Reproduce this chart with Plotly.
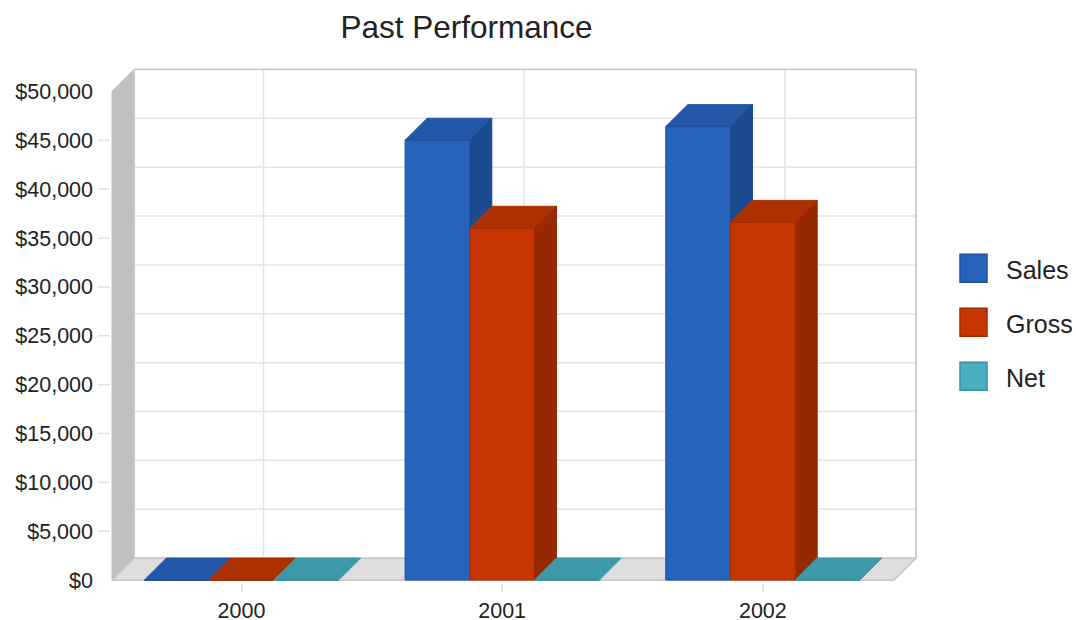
import plotly.graph_objects as go

title = "Past Performance"
years = ["2000", "2001", "2002"]
sales = [0, 45000, 46400]
gross = [0, 36000, 36600]
net = [0, 0, 0]
series_names = ["Sales", "Gross", "Net"]
series_values = [sales, gross, net]
tick_values = [0, 5000, 10000, 15000, 20000, 25000, 30000, 35000, 40000, 45000, 50000]
tick_labels = ["$0", "$5,000", "$10,000", "$15,000", "$20,000", "$25,000", "$30,000", "$35,000", "$40,000", "$45,000", "$50,000"]
front_colors = ["#2563BD", "#C73600", "#47B0C0"]
top_colors = ["#2157A6", "#AD3000", "#3D99A8"]
side_colors = ["#1C4A8F", "#962900", "#327F8C"]
line_colors = ["#1F4F9A", "#A32C00", "#3A8F9C"]

W, H = 1076, 620
PX_X = 260.67
PX_Y = 0.00978
X0_PX = 241.5
Y0_PX = 580.0
L_PX, R_PX = 96.0, 918.0
T_VAL, B_VAL = 52500.0, -300.0
xr = [(L_PX - X0_PX) / PX_X, (R_PX - X0_PX) / PX_X]
yr = [B_VAL, T_VAL]
DX = 22 / PX_X
DY = 22 / PX_Y
XL = (112 - X0_PX) / PX_X
XR = (894 - X0_PX) / PX_X
YT = tick_values[-1]
BAR_W = 0.2483
GROUP = BAR_W * 3

fig = go.Figure()


def poly(xs, ys, fill, line=None, width=1):
    fig.add_trace(go.Scatter(
        x=xs + [xs[0]], y=ys + [ys[0]], mode="lines", fill="toself", fillcolor=fill,
        line=dict(color=line or fill, width=width), hoverinfo="skip", showlegend=False))


def lines(segs, color, width=1.5):
    xs, ys = [], []
    for (a, b, c, d) in segs:
        xs += [a, c, None]
        ys += [b, d, None]
    fig.add_trace(go.Scatter(x=xs, y=ys, mode="lines", line=dict(color=color, width=width),
                             hoverinfo="skip", showlegend=False))


# back wall
poly([XL + DX, XR + DX, XR + DX, XL + DX], [DY, DY, YT + DY, YT + DY], "#FFFFFF")
# grid on back wall
grid = [(XL + DX, v + DY, XR + DX, v + DY) for v in tick_values[1:-1]]
grid += [(i + DX, DY, i + DX, YT + DY) for i in range(len(years))]
lines(grid, "#E3E4E8", 1.5)
# left wall and floor
poly([XL, XL + DX, XL + DX, XL], [0, DY, YT + DY, YT], "#C0C0C0")
poly([XL, XL + DX, XR + DX, XR], [0, DY, DY, 0], "#DEDEDE")
# frame
lines([(XL + DX, YT + DY, XR + DX, YT + DY), (XR + DX, YT + DY, XR + DX, DY),
       (XR + DX, DY, XR, 0), (XL + DX, DY, XR + DX, DY), (XL + DX, DY, XL + DX, YT + DY),
       (XL, 0, XR, 0), (XL, 0, XL + DX, DY)], "#C8C8C8", 1.8)
# y ticks
lines([(XL - 14 / PX_X, v, XL - 2 / PX_X, v) for v in tick_values[1:-1]], "#E3E3E3", 1.5)

# 3D faces of each bar
for s, vals in enumerate(series_values):
    for i, v in enumerate(vals):
        x0 = i - GROUP / 2 + s * BAR_W
        x1 = x0 + BAR_W
        poly([x0, x1, x1 + DX, x0 + DX], [v, v, v + DY, v + DY], top_colors[s])
        if v > 0:
            poly([x1, x1 + DX, x1 + DX, x1], [0, DY, v + DY, v], side_colors[s])

# front faces, on an overlaying axis pair so they sit above the side faces
for s, vals in enumerate(series_values):
    fig.add_trace(go.Bar(
        x=list(range(len(years))), y=vals, name=series_names[s], xaxis="x2", yaxis="y2",
        marker=dict(color=front_colors[s], line=dict(color=line_colors[s], width=1)),
        showlegend=False))

font = "Liberation Sans, Arial, sans-serif"
plot_top = Y0_PX - T_VAL * PX_Y
plot_bottom = Y0_PX - B_VAL * PX_Y
plot_h = plot_bottom - plot_top
shapes = []
annotations = []
for s, name in enumerate(series_names):
    top = 254 + 54 * s
    shapes.append(dict(type="rect", xref="paper", yref="paper", layer="above",
                       x0=(960 - L_PX) / (R_PX - L_PX), x1=(987 - L_PX) / (R_PX - L_PX),
                       y1=(plot_bottom - top) / plot_h, y0=(plot_bottom - top - 28) / plot_h,
                       fillcolor=front_colors[s], line=dict(color=line_colors[s], width=1.5)))
    annotations.append(dict(text=name, xref="paper", yref="paper", showarrow=False,
                            x=(1004 - L_PX) / (R_PX - L_PX), xanchor="left",
                            y=(plot_bottom - top - 16) / plot_h, yanchor="middle",
                            font=dict(family=font, size=25, color="#222222")))

fig.update_layout(
    width=W, height=H,
    margin=dict(l=L_PX, r=W - R_PX, t=plot_top, b=H - plot_bottom, pad=0),
    paper_bgcolor="#FFFFFF", plot_bgcolor="rgba(0,0,0,0)",
    barmode="group", bargap=1 - GROUP, bargroupgap=0,
    showlegend=False,
    title=dict(text=title, x=466.5 / W, xanchor="center", xref="container", y=1 - 27 / H, yanchor="middle",
               font=dict(family=font, size=31.5, color="#222222")),
    font=dict(family=font, size=21.5, color="#222222"),
    xaxis=dict(range=xr, tickmode="array", tickvals=list(range(len(years))), ticktext=years,
               showgrid=False, zeroline=False, showline=False, ticks="outside", ticklen=8,
               tickcolor="#E3E3E3", tickwidth=1.5, ticklabelstandoff=0, automargin=False),
    yaxis=dict(range=yr, tickmode="array", tickvals=tick_values, ticktext=tick_labels,
               showgrid=False, zeroline=False, showline=False, ticks="", ticklabelstandoff=2,
               automargin=False),
    xaxis2=dict(range=xr, overlaying="x", visible=False),
    yaxis2=dict(range=yr, overlaying="y", visible=False),
    shapes=shapes, annotations=annotations,
)
fig.write_html("out.html", post_script="document.body.style.margin='0';",
               config={"displayModeBar": False})
